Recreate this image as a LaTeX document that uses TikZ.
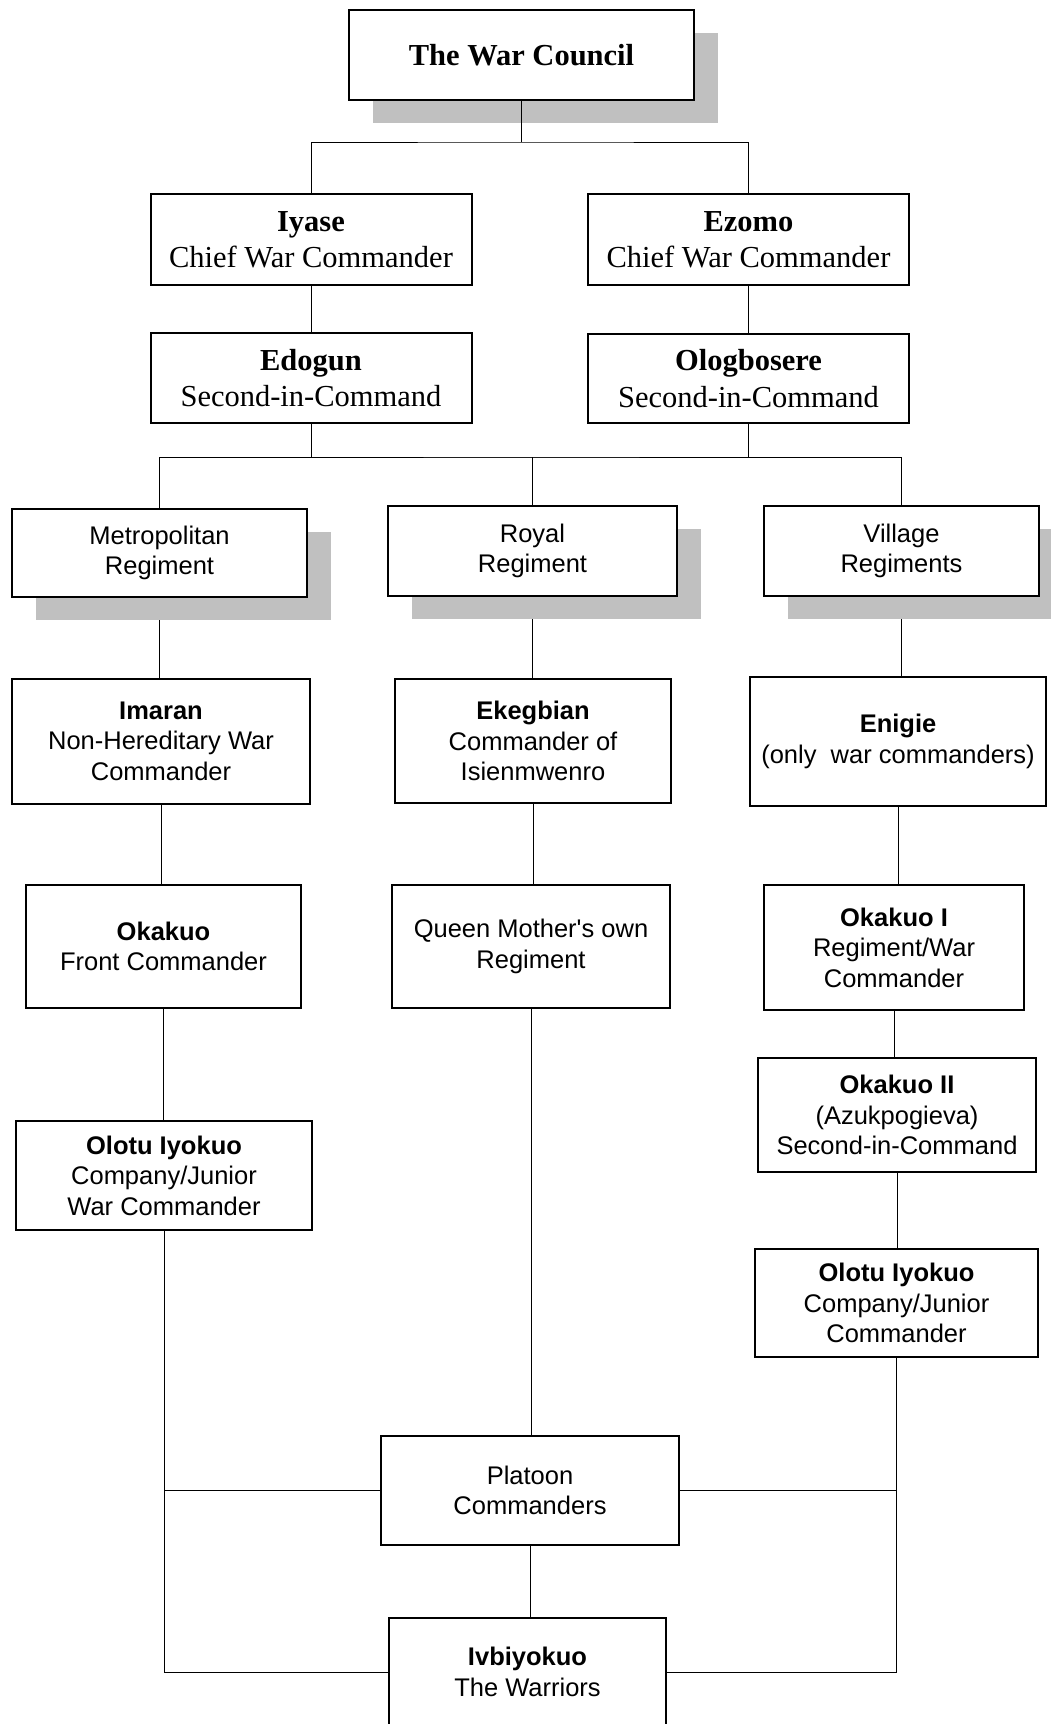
\documentclass[tikz,border=0pt]{standalone}
\usepackage{fontspec}
\setmainfont{Liberation Serif}
\setsansfont{Liberation Sans}
\usetikzlibrary{shadows,backgrounds}
\definecolor{shadowgray}{HTML}{C0C0C0}
\tikzset{
  box/.style={draw, line width=2pt, fill=white, align=center, inner sep=0pt},
  serifbox/.style={box, font=\fontsize{30.5}{36.5}\selectfont},
  sansbox/.style={box, font=\sffamily\fontsize{25.5}{30.5}\selectfont},
  grayshadow/.style={drop shadow={shadow xshift=24pt, shadow yshift=-23pt, fill=shadowgray, opacity=1}},
  link/.style={line width=1pt}
}
\begin{document}
\begin{tikzpicture}[x=1pt,y=-1pt]
\useasboundingbox (0,0) rectangle (1050,1724);
% council and chiefs
\node[serifbox, grayshadow, minimum width=345, minimum height=90] (wc) at (521.5,55) {\textbf{The War Council}};
\node[serifbox, minimum width=321, minimum height=91] (iyase) at (311,239.5) {\textbf{Iyase}\\Chief War Commander};
\node[serifbox, minimum width=321, minimum height=91] (ezomo) at (748.5,239.5) {\textbf{Ezomo}\\Chief War Commander};
\node[serifbox, minimum width=321, minimum height=90] (edogun) at (311,378) {\textbf{Edogun}\\Second-in-Command};
\node[serifbox, minimum width=321, minimum height=89] (ologbosere) at (748.5,378.5) {\textbf{Ologbosere}\\Second-in-Command};
% regiments
\node[sansbox, grayshadow, minimum width=295, minimum height=88] (metro) at (159.5,553) {Metropolitan\\Regiment};
\node[sansbox, grayshadow, minimum width=289, minimum height=90] (royal) at (532.5,551) {Royal\\Regiment};
\node[sansbox, grayshadow, minimum width=275, minimum height=90] (village) at (901.5,551) {Village\\Regiments};
% commanders
\node[sansbox, minimum width=298, minimum height=125] (imaran) at (161,741) {\textbf{Imaran}\\Non-Hereditary War\\Commander};
\node[sansbox, minimum width=276, minimum height=124] (ekegbian) at (533,741) {\textbf{Ekegbian}\\Commander of\\Isienmwenro};
\node[sansbox, minimum width=296, minimum height=129] (enigie) at (898,741.5) {\textbf{Enigie}\\(only\ \ war commanders)};
\node[sansbox, minimum width=275, minimum height=123] (okakuo) at (163.5,946.5) {\textbf{Okakuo}\\Front Commander};
\node[sansbox, minimum width=278, minimum height=123] (queen) at (531,946.5) {Queen Mother\textquotesingle s own\\Regiment};
\node[sansbox, minimum width=260, minimum height=125] (okakuo1) at (894,947.5) {\textbf{Okakuo I}\\Regiment/War\\Commander};
\node[sansbox, minimum width=278, minimum height=114] (okakuo2) at (897,1115) {\textbf{Okakuo II}\\(Azukpogieva)\\Second-in-Command};
\node[sansbox, minimum width=296, minimum height=109] (olotu1) at (164,1175.5) {\textbf{Olotu Iyokuo}\\Company/Junior\\War Commander};
\node[sansbox, minimum width=283, minimum height=108] (olotu2) at (896.5,1303) {\textbf{Olotu Iyokuo}\\Company/Junior\\Commander};
\node[sansbox, minimum width=298, minimum height=109] (platoon) at (530,1490.5) {Platoon\\Commanders};
\node[sansbox, minimum width=277, minimum height=108] (ivb) at (527.5,1672) {\textbf{Ivbiyokuo}\\The Warriors};
% connectors
\coordinate (top) at (521.5,142);
\coordinate (mid) at (533,457);
\draw[link] (wc.south) -- (top);
\begin{scope}[on background layer]
\draw[link] (iyase.north) |- (top) -| (ezomo.north);
\draw[link] (iyase.south) -- (edogun.north);
\draw[link] (ezomo.south) -- (ologbosere.north);
\draw[link] (edogun.south) |- (mid) -| (ologbosere.south);
\draw[link] (metro.north) |- (mid) -| (village.north);
\draw[link] (royal.north) -- (royal.north |- mid);
\draw[link] (metro.south) -- (metro.south |- imaran.north);
\draw[link] (imaran.south) -- (imaran.south |- okakuo.north);
\draw[link] (okakuo.south) -- (okakuo.south |- olotu1.north);
\draw[link] (royal.south) -- (royal.south |- ekegbian.north);
\draw[link] (ekegbian.south) -- (ekegbian.south |- queen.north);
\draw[link] (queen.south) -- (queen.south |- platoon.north);
\draw[link] (platoon.south) -- (platoon.south |- ivb.north);
\draw[link] (village.south) -- (village.south |- enigie.north);
\draw[link] (enigie.south) -- (enigie.south |- okakuo1.north);
\draw[link] (okakuo1.south) -- (okakuo1.south |- okakuo2.north);
\draw[link] (okakuo2.south) -- (okakuo2.south |- olotu2.north);
\draw[link] (olotu1.south) |- (ivb.west);
\draw[link] (olotu2.south) |- (ivb.east);
\draw[link] (platoon.west) -- (platoon.west -| olotu1.south);
\draw[link] (platoon.east) -- (platoon.east -| olotu2.south);
\end{scope}
\end{tikzpicture}
\end{document}
